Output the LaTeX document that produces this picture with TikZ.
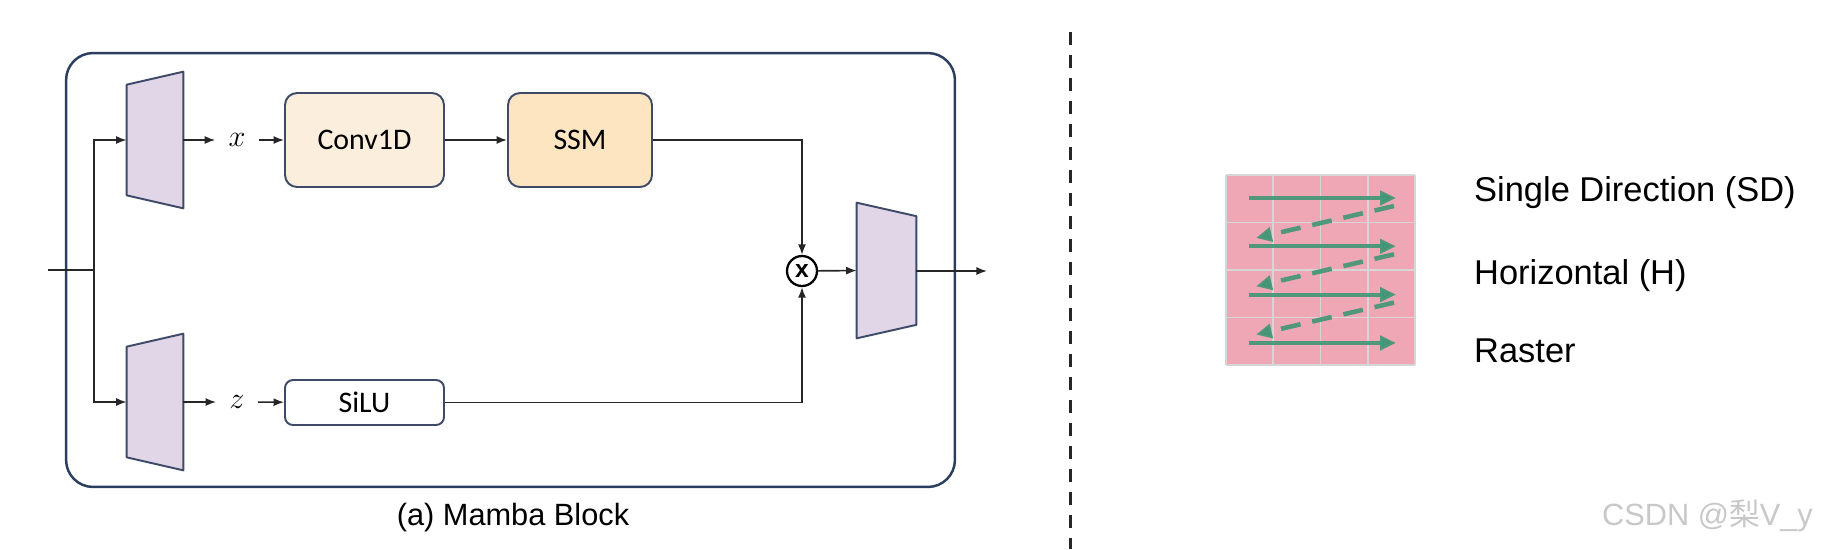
\documentclass[tikz,border=0pt]{standalone}
\usepackage{fontspec}
\setmainfont{Liberation Sans}
\newfontfamily\carlito{Carlito}
\newfontfamily\cjk{Noto Sans CJK SC}
\usetikzlibrary{arrows.meta,calc}

\definecolor{bordure}{RGB}{62,75,104}
\definecolor{cadrebleu}{RGB}{44,62,96}
\definecolor{creme}{RGB}{251,238,221}
\definecolor{abricot}{RGB}{253,229,194}
\definecolor{lavande}{RGB}{225,213,232}
\definecolor{rose}{RGB}{239,167,182}
\definecolor{grisgrille}{RGB}{214,214,214}
\definecolor{sarcelle}{RGB}{64,150,118}
\definecolor{filigrane}{RGB}{200,200,200}

\tikzstyle{bloc}=[draw=bordure, rectangle, rounded corners=0.24cm, line width=1.1pt, minimum width=3.18cm, minimum height=1.88cm, font=\carlito\fontsize{17}{20}\selectfont]
\tikzstyle{trapeze}=[rectangle, minimum width=1.12cm, minimum height=2.72cm, inner sep=0pt]
\tikzstyle{contourtrap}=[draw=bordure, fill=lavande, line width=1.1pt, line join=round]
\tikzstyle{fleche}=[-{Latex[length=6pt,width=4.6pt]}, line width=0.95pt, draw=black!85]
\tikzstyle{lien}=[line width=0.95pt, draw=black!85]
\tikzstyle{etiquette}=[inner sep=0.26cm, font=\fontsize{19}{22}\selectfont]
\tikzstyle{balayage}=[draw=sarcelle, line width=2.3pt, -{Triangle[length=9pt,width=8pt]}, opacity=0.9]
\tikzstyle{legende}=[anchor=base west, font=\fontsize{19.6}{22}\selectfont]

\begin{document}
\begin{tikzpicture}[x=0.02cm, y=-0.02cm]
    \useasboundingbox (0,0) rectangle (1822,549);

    \node[draw=cadrebleu, line width=1.4pt, rounded corners=0.54cm, minimum width=17.78cm, minimum height=8.68cm] (cadre) at (510.5,270) {};
    \node[font=\fontsize{17.5}{20}\selectfont] (titre) at (513,518) {(a) Mamba Block};

    \node[trapeze] (encx) at (155,140) {};
    \node[trapeze] (encz) at (155,402) {};
    \node[trapeze, minimum width=1.18cm, minimum height=2.7cm] (dec) at (886.5,270.5) {};
    \foreach \t in {encx,encz}
        \draw[contourtrap] ($(\t.north west)+(0,13)$) -- (\t.north east) -- (\t.south east) -- ($(\t.south west)+(0,-13)$) -- cycle;
    \draw[contourtrap] (dec.north west) -- ($(dec.north east)+(0,13.5)$) -- ($(dec.south east)+(0,-13.5)$) -- (dec.south west) -- cycle;

    \node[etiquette] (vx) at (237,140) {$x$};
    \node[etiquette] (vz) at (237,402) {$z$};
    \node[bloc, fill=creme] (conv) at (364.5,140) {Conv1D};
    \node[bloc, fill=abricot, minimum width=2.88cm] (ssm) at (580,140) {SSM};
    \node[bloc, fill=white, minimum height=0.9cm, rounded corners=0.16cm] (silu) at (364.5,402.5) {SiLU};
    \node[draw=black, circle, line width=1.3pt, minimum size=0.6cm, inner sep=0pt, font=\bfseries\fontsize{14}{14}\selectfont] (mul) at (802,271) {x};

    \coordinate (entree) at (48,270);
    \coordinate (fourche) at (94,270);
    \coordinate (sortie) at (987,271);

    \draw[lien] (entree) -- (fourche);
    \draw[fleche] (fourche) |- (encx.west);
    \draw[fleche] (fourche) |- (encz.west);
    \draw[fleche] (encx.east) -- (vx);
    \draw[fleche] (encz.east) -- (vz);
    \draw[fleche] (vx) -- (conv);
    \draw[fleche] (vz) -- (silu);
    \draw[fleche] (conv) -- (ssm);
    \draw[fleche] (ssm.east) -| (mul.north);
    \draw[fleche] (silu.east) -| (mul.south);
    \draw[fleche] (mul) -- (dec.west);
    \draw[fleche] (dec.east |- sortie) -- (sortie);

    \draw[draw=black!85, line width=1.7pt, dash pattern=on 0.26cm off 0.2cm] (1070,32) -- (1070,549);

    \fill[rose] (1226,175) rectangle (1415,365);
    \foreach \i in {0,...,4} {
        \draw[grisgrille, line width=1.1pt] (1226+47.25*\i,175) -- (1226+47.25*\i,365);
        \draw[grisgrille, line width=1.1pt] (1226,175+47.5*\i) -- (1415,175+47.5*\i);
    }
    \foreach \i in {0,...,3}
        \draw[balayage] (1249,198+48.3*\i) -- (1396,198+48.3*\i);
    \foreach \i in {0,...,2}
        \draw[balayage, line width=2.6pt, dash pattern=on 0.4cm off 0.24cm] (1394,206+48.3*\i) -- (1256,238+48.3*\i);

    \node[legende] (sd) at (1468,201) {Single Direction (SD)};
    \node[legende] (hor) at (1468,284) {Horizontal (H)};
    \node[legende] (ras) at (1468,362) {Raster};

    \node[anchor=base west, text=filigrane, font=\fontsize{17.5}{20}\selectfont] (marque) at (1596,525) {CSDN @{\cjk 梨}V\_y};
\end{tikzpicture}
\end{document}
